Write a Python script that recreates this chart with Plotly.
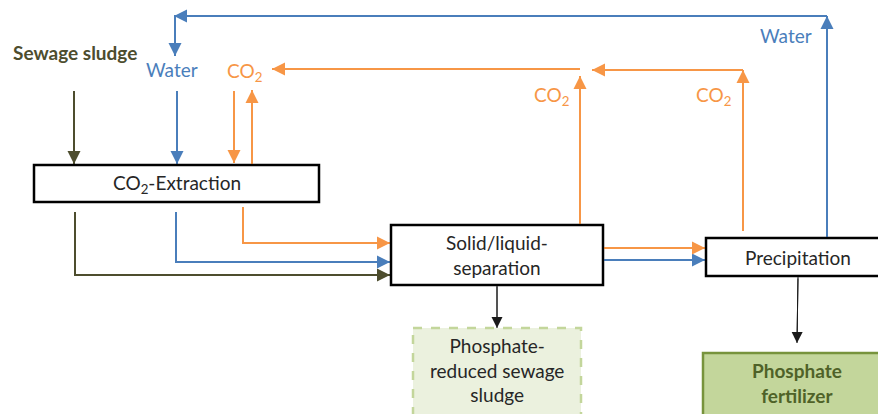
import plotly.graph_objects as go

# ---- diagram data (pixel coordinates, y grows downward) ----
OLIVE = "#4d4d2e"
BLUE = "#4a7ebb"
ORANGE = "#f79646"
BLACK = "#1a1a1a"

# process boxes: label, x0, y0, x1, y1
box_labels = ["CO<sub>2</sub>-Extraction", "Solid/liquid-<br>separation", "Precipitation"]
box_x0 = [34, 391, 706]
box_y0 = [165, 225, 238]
box_x1 = [319, 603, 892]
box_y1 = [202, 285, 276]

# product boxes
prod_labels = ["Phosphate-<br>reduced sewage<br>sludge", "<b>Phosphate<br>fertilizer</b>"]
prod_x0 = [413, 703]
prod_y0 = [328, 353]
prod_x1 = [581, 892]
prod_y1 = [420, 420]
prod_fill = ["#ebf1de", "#c3d69b"]
prod_line = ["#c3d69b", "#77933c"]
prod_dash = ["dash", "solid"]
prod_text = ["#262626", "#4f6228"]

# flows: colour, list of (x, y) points; arrow on last segment
flow_colors = [OLIVE, OLIVE,
               BLUE, BLUE, BLUE, BLUE, BLUE, BLUE,
               ORANGE, ORANGE, ORANGE, ORANGE, ORANGE, ORANGE, ORANGE, ORANGE,
               BLACK, BLACK]
flow_points = [
    [(74, 91), (74, 164)],
    [(75, 212), (75, 275), (390, 275)],
    [(177, 91), (177, 164)],
    [(176, 212), (176, 262), (390, 262)],
    [(603, 260), (705, 260)],
    [(827, 238), (827, 16)],
    [(827, 16), (174, 16)],
    [(175, 16), (175, 56)],
    [(234, 91), (234, 163)],
    [(252, 165), (252, 90)],
    [(243, 207), (243, 243), (390, 243)],
    [(603, 248), (705, 248)],
    [(580, 225), (580, 76)],
    [(580, 69), (272, 69)],
    [(743, 231), (743, 70)],
    [(743, 70), (592, 70)],
    [(497, 285), (497, 328)],
    [(798, 277), (797, 343)],
]
flow_widths = [2] * 16 + [1, 1]

# free labels: text, x, y, colour, bold
label_texts = ["Sewage sludge", "Water", "CO<sub>2</sub>", "CO<sub>2</sub>", "CO<sub>2</sub>", "Water"]
label_x = [75, 172, 244, 551, 713, 786]
label_y = [52, 69, 72, 96, 96, 35]
label_colors = [OLIVE, BLUE, ORANGE, ORANGE, ORANGE, BLUE]
label_bold = [True, False, False, False, False, False]

FONT = "Lato"
FS = 19

fig = go.Figure()
shapes = []
annotations = []

# product boxes
for lab, x0, y0, x1, y1, fc, lc, ds, tc in zip(prod_labels, prod_x0, prod_y0, prod_x1, prod_y1,
                                                 prod_fill, prod_line, prod_dash, prod_text):
    shapes.append(dict(type="rect", x0=x0, y0=y0, x1=x1, y1=y1, xref="x", yref="y",
                       fillcolor=fc, line=dict(color=lc, width=2.5, dash=ds), layer="below"))

# lines
for col, pts, w in zip(flow_colors, flow_points, flow_widths):
    xs = [p[0] for p in pts]
    ys = [p[1] for p in pts]
    fig.add_trace(go.Scatter(x=xs, y=ys, mode="lines",
                             line=dict(color=col, width=w), hoverinfo="skip", showlegend=False))
    (tx0, ty0), (tx1, ty1) = pts[-2], pts[-1]
    annotations.append(dict(x=tx1, y=ty1, ax=tx0, ay=ty0, xref="x", yref="y", axref="x", ayref="y",
                            text="", showarrow=True, arrowhead=2, arrowsize=1.3 if w == 2 else 2.2,
                            arrowwidth=w, arrowcolor=col, standoff=0, startstandoff=0))

# process boxes
for lab, x0, y0, x1, y1 in zip(box_labels, box_x0, box_y0, box_x1, box_y1):
    shapes.append(dict(type="rect", x0=x0, y0=y0, x1=x1, y1=y1, xref="x", yref="y",
                       fillcolor="white", line=dict(color="black", width=2.5), layer="above"))

fig.update_layout(shapes=shapes)

for lab, x0, y0, x1, y1 in zip(box_labels, box_x0, box_y0, box_x1, box_y1):
    cx = (x0 + x1) / 2 if x1 <= 878 else 798
    annotations.append(dict(x=cx, y=(y0 + y1) / 2, xref="x", yref="y", text=lab, showarrow=False,
                            font=dict(family=FONT, size=FS, color="#262626")))

for lab, x0, y0, x1, y1, tc in zip(prod_labels, prod_x0, prod_y0, prod_x1, prod_y1, prod_text):
    cx = (x0 + x1) / 2 if x1 <= 878 else 797
    annotations.append(dict(x=cx, y=y0 + 4, xref="x", yref="y", yanchor="top", text=lab,
                            showarrow=False, font=dict(family=FONT, size=FS, color=tc)))

for t, x, y, c, b in zip(label_texts, label_x, label_y, label_colors, label_bold):
    annotations.append(dict(x=x, y=y, xref="x", yref="y", text=f"<b>{t}</b>" if b else t,
                            showarrow=False, font=dict(family=FONT, size=FS, color=c)))

fig.update_layout(
    annotations=annotations,
    width=878, height=414,
    margin=dict(l=0, r=0, t=0, b=0),
    paper_bgcolor="white", plot_bgcolor="white",
    xaxis=dict(range=[0, 878], visible=False, fixedrange=True),
    yaxis=dict(range=[414, 0], visible=False, fixedrange=True),
    showlegend=False,
)

fig.write_html("out.html", config={"displayModeBar": False},
               post_script="document.body.style.margin='0px';document.body.style.overflow='hidden';")
